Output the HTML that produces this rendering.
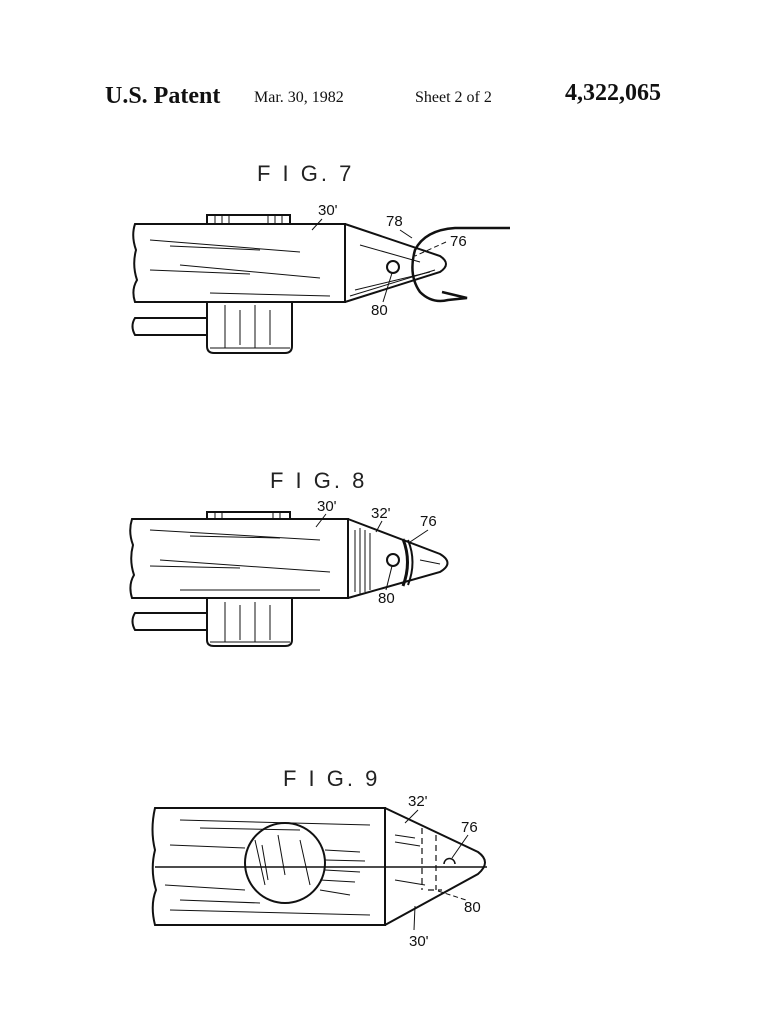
<!DOCTYPE html>
<html><head><meta charset="utf-8"><style>
html,body{margin:0;padding:0;background:#fff}
svg{display:block}
.h{font-family:"Liberation Serif",serif;fill:#111}
.f{font-family:"Liberation Sans",sans-serif;fill:#222;font-size:22px;letter-spacing:3px}
.l{font-family:"Liberation Sans",sans-serif;fill:#111;font-size:15px}
</style></head><body>
<svg width="763" height="1024" viewBox="0 0 763 1024" xmlns="http://www.w3.org/2000/svg" fill="none" stroke="#111" stroke-width="2">
<text class="h" x="105" y="103" font-size="24" font-weight="bold" stroke="none">U.S. Patent</text>
<text class="h" x="254" y="102" font-size="16" stroke="none">Mar. 30, 1982</text>
<text class="h" x="415" y="102" font-size="16" stroke="none">Sheet 2 of 2</text>
<text class="h" x="565" y="100" font-size="24" font-weight="bold" stroke="none">4,322,065</text>

<!-- FIG 7 -->
<text class="f" x="257" y="181" stroke="none">F I G.  7</text>
<rect x="207" y="215" width="83" height="9"/>
<g stroke-width="1"><line x1="215" y1="215" x2="215" y2="224"/><line x1="222" y1="215" x2="222" y2="224"/><line x1="229" y1="215" x2="229" y2="224"/><line x1="268" y1="215" x2="268" y2="224"/><line x1="275" y1="215" x2="275" y2="224"/><line x1="282" y1="215" x2="282" y2="224"/></g>
<path d="M207 302 V346 Q207 353 214 353 H285 Q292 353 292 346 V302"/>
<g stroke-width="1"><line x1="225" y1="305" x2="225" y2="348"/><line x1="240" y1="310" x2="240" y2="345"/><line x1="255" y1="305" x2="255" y2="348"/><line x1="270" y1="310" x2="270" y2="345"/><line x1="210" y1="348" x2="290" y2="348"/></g>
<path d="M207 318 H135 Q130 326 135 335 H207"/>
<path d="M135 224 H345 V302 H135 Q131 290 137 280 Q132 265 136 250 Q131 236 135 224Z"/>
<path d="M345 224 L440 256 Q452 264 440 272 L345 302"/>
<g stroke-width="1"><line x1="150" y1="240" x2="300" y2="252"/><line x1="170" y1="246" x2="260" y2="250"/><line x1="180" y1="265" x2="320" y2="278"/><line x1="150" y1="270" x2="250" y2="274"/><line x1="210" y1="293" x2="330" y2="296"/><line x1="360" y1="245" x2="420" y2="262"/><line x1="355" y1="290" x2="430" y2="272"/><line x1="350" y1="296" x2="435" y2="270"/></g>
<path d="M510 228 H455 Q425 230 415 250 Q408 275 420 292 Q432 304 448 300 L467 298 L442 292" stroke-width="2.5"/>
<circle cx="393" cy="267" r="6"/>
<text class="l" x="318" y="215" stroke="none">30'</text><line x1="322" y1="219" x2="312" y2="230" stroke-width="1"/>
<text class="l" x="386" y="226" stroke="none">78</text><line x1="400" y1="230" x2="412" y2="238" stroke-width="1"/>
<text class="l" x="450" y="246" stroke="none">76</text><line x1="446" y1="242" x2="415" y2="256" stroke-width="1" stroke-dasharray="5 3"/>
<text class="l" x="371" y="315" stroke="none">80</text><line x1="383" y1="302" x2="392" y2="273" stroke-width="1"/>

<!-- FIG 8 -->
<text class="f" x="270" y="488" stroke="none">F I G.  8</text>
<rect x="207" y="512" width="83" height="7"/>
<g stroke-width="1"><line x1="215" y1="512" x2="215" y2="519"/><line x1="222" y1="512" x2="222" y2="519"/><line x1="273" y1="512" x2="273" y2="519"/><line x1="280" y1="512" x2="280" y2="519"/></g>
<path d="M207 598 V640 Q207 646 214 646 H285 Q292 646 292 640 V598"/>
<g stroke-width="1"><line x1="225" y1="602" x2="225" y2="642"/><line x1="240" y1="605" x2="240" y2="640"/><line x1="255" y1="602" x2="255" y2="642"/><line x1="270" y1="605" x2="270" y2="640"/><line x1="210" y1="642" x2="290" y2="642"/></g>
<path d="M207 613 H135 Q130 621 135 630 H207"/>
<path d="M132 519 H348 V598 H132 Q128 585 134 575 Q129 560 133 545 Q128 532 132 519Z"/>
<path d="M348 519 L440 554 Q455 563 440 572 L348 598"/>
<g stroke-width="1"><line x1="150" y1="530" x2="320" y2="540"/><line x1="190" y1="536" x2="280" y2="538"/><line x1="160" y1="560" x2="330" y2="572"/><line x1="150" y1="566" x2="240" y2="568"/><line x1="180" y1="590" x2="320" y2="590"/><line x1="355" y1="530" x2="355" y2="592"/><line x1="360" y1="528" x2="360" y2="594"/><line x1="365" y1="530" x2="365" y2="592"/><line x1="370" y1="533" x2="370" y2="590"/><line x1="420" y1="560" x2="440" y2="564"/></g>
<path d="M403 539 Q412 562 403 586" stroke-width="3"/>
<path d="M408 540 Q417 562 408 585" stroke-width="2"/>
<circle cx="393" cy="560" r="6"/>
<text class="l" x="317" y="511" stroke="none">30'</text><line x1="326" y1="514" x2="316" y2="527" stroke-width="1"/>
<text class="l" x="371" y="518" stroke="none">32'</text><line x1="382" y1="521" x2="376" y2="532" stroke-width="1"/>
<text class="l" x="420" y="526" stroke="none">76</text><line x1="428" y1="530" x2="410" y2="542" stroke-width="1"/>
<text class="l" x="378" y="603" stroke="none">80</text><line x1="386" y1="590" x2="392" y2="566" stroke-width="1"/>

<!-- FIG 9 -->
<text class="f" x="283" y="786" stroke="none">F I G.  9</text>
<path d="M155 808 H385 V925 H155 Q150 905 156 890 Q150 870 155 850 Q150 830 155 808Z"/>
<line x1="155" y1="867" x2="487" y2="867" stroke-width="1.5"/>
<path d="M385 808 L478 852 Q492 862 478 874 L385 925"/>
<circle cx="285" cy="863" r="40"/>
<g stroke-width="1"><line x1="180" y1="820" x2="370" y2="825"/><line x1="200" y1="828" x2="300" y2="830"/><line x1="170" y1="845" x2="245" y2="848"/><line x1="165" y1="885" x2="245" y2="890"/><line x1="180" y1="900" x2="260" y2="903"/><line x1="170" y1="910" x2="370" y2="915"/><line x1="325" y1="850" x2="360" y2="852"/><line x1="325" y1="860" x2="365" y2="861"/><line x1="325" y1="870" x2="360" y2="872"/><line x1="320" y1="880" x2="355" y2="882"/><line x1="320" y1="890" x2="350" y2="895"/><line x1="255" y1="840" x2="265" y2="885"/><line x1="262" y1="845" x2="268" y2="880"/><line x1="278" y1="835" x2="285" y2="875"/><line x1="300" y1="840" x2="310" y2="885"/><line x1="395" y1="835" x2="415" y2="838"/><line x1="395" y1="842" x2="420" y2="846"/><line x1="395" y1="880" x2="425" y2="885"/></g>
<g stroke-width="1.2" stroke-dasharray="6 4"><line x1="422" y1="828" x2="422" y2="890"/><line x1="436" y1="835" x2="436" y2="890"/><line x1="428" y1="890" x2="442" y2="890"/></g>
<path d="M444 864 A5 5 0 0 1 455 864" stroke-width="1.5"/>
<text class="l" x="408" y="806" stroke="none">32'</text><line x1="418" y1="810" x2="405" y2="823" stroke-width="1"/>
<text class="l" x="461" y="832" stroke="none">76</text><line x1="468" y1="835" x2="452" y2="858" stroke-width="1"/>
<text class="l" x="464" y="912" stroke="none">80</text><line x1="438" y1="891" x2="466" y2="900" stroke-width="1" stroke-dasharray="5 3"/>
<text class="l" x="409" y="946" stroke="none">30'</text><line x1="414" y1="930" x2="415" y2="906" stroke-width="1"/>
</svg>
</body></html>
